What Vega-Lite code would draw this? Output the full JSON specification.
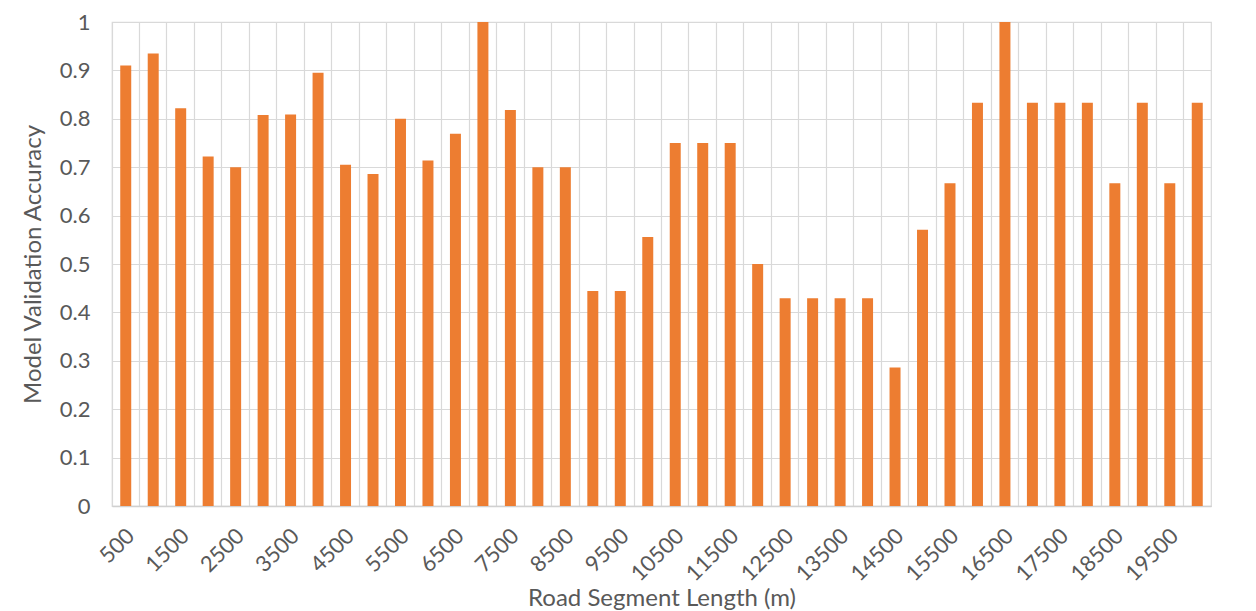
{
  "$schema": "https://vega.github.io/schema/vega-lite/v6.json",
  "width": 1099,
  "height": 484,
  "autosize": {"type": "none"},
  "padding": {"left": 112, "top": 22, "right": 45, "bottom": 105},
  "background": "white",
  "config": {
    "view": {"stroke": "#d9d9d9", "strokeWidth": 1.2},
    "font": "Lato"
  },
  "data": {
    "values": [
      {"length": 500, "accuracy": 0.91},
      {"length": 1000, "accuracy": 0.935},
      {"length": 1500, "accuracy": 0.822},
      {"length": 2000, "accuracy": 0.722},
      {"length": 2500, "accuracy": 0.7},
      {"length": 3000, "accuracy": 0.808},
      {"length": 3500, "accuracy": 0.809},
      {"length": 4000, "accuracy": 0.895},
      {"length": 4500, "accuracy": 0.705},
      {"length": 5000, "accuracy": 0.686},
      {"length": 5500, "accuracy": 0.8},
      {"length": 6000, "accuracy": 0.714},
      {"length": 6500, "accuracy": 0.769},
      {"length": 7000, "accuracy": 1.0},
      {"length": 7500, "accuracy": 0.818},
      {"length": 8000, "accuracy": 0.7},
      {"length": 8500, "accuracy": 0.7},
      {"length": 9000, "accuracy": 0.444},
      {"length": 9500, "accuracy": 0.444},
      {"length": 10000, "accuracy": 0.556},
      {"length": 10500, "accuracy": 0.75},
      {"length": 11000, "accuracy": 0.75},
      {"length": 11500, "accuracy": 0.75},
      {"length": 12000, "accuracy": 0.5},
      {"length": 12500, "accuracy": 0.429},
      {"length": 13000, "accuracy": 0.429},
      {"length": 13500, "accuracy": 0.429},
      {"length": 14000, "accuracy": 0.429},
      {"length": 14500, "accuracy": 0.286},
      {"length": 15000, "accuracy": 0.571},
      {"length": 15500, "accuracy": 0.667},
      {"length": 16000, "accuracy": 0.833},
      {"length": 16500, "accuracy": 1.0},
      {"length": 17000, "accuracy": 0.833},
      {"length": 17500, "accuracy": 0.833},
      {"length": 18000, "accuracy": 0.833},
      {"length": 18500, "accuracy": 0.667},
      {"length": 19000, "accuracy": 0.833},
      {"length": 19500, "accuracy": 0.667},
      {"length": 20000, "accuracy": 0.833}
    ]
  },
  "mark": {"type": "bar", "color": "#ED7D31", "width": {"band": 0.4}},
  "encoding": {
    "x": {
      "field": "length",
      "type": "ordinal",
      "sort": "ascending",
      "scale": {"paddingInner": 0, "paddingOuter": 0},
      "axis": {
        "title": "Road Segment Length (m)",
        "titleFont": "Lato",
        "titleFontSize": 24,
        "titleFontWeight": "normal",
        "titleColor": "#595959",
        "titlePadding": 2,
        "labelExpr": "datum.value % 1000 == 500 ? datum.label : ''",
        "bandPosition": 0,
        "labelOffset": 5,
        "labelAngle": -45,
        "labelAlign": "right",
        "labelBaseline": "middle",
        "labelFont": "Lato",
        "labelFontSize": 22,
        "labelColor": "#595959",
        "labelPadding": 26,
        "labelOverlap": false,
        "ticks": false,
        "domainColor": "#d0d0d0",
        "domainWidth": 1.5,
        "grid": true,
        "gridColor": "#d9d9d9",
        "gridWidth": 1.2
      }
    },
    "y": {
      "field": "accuracy",
      "type": "quantitative",
      "scale": {"domain": [0, 1], "nice": false},
      "axis": {
        "title": "Model Validation Accuracy",
        "titleFont": "Lato",
        "titleFontSize": 24,
        "titleFontWeight": "normal",
        "titleColor": "#595959",
        "titlePadding": 14,
        "values": [0, 0.1, 0.2, 0.3, 0.4, 0.5, 0.6, 0.7, 0.8, 0.9, 1],
        "format": ".1~f",
        "labelFont": "Lato",
        "labelFontSize": 22,
        "labelColor": "#595959",
        "labelPadding": 22,
        "ticks": false,
        "domain": false,
        "grid": true,
        "gridColor": "#d9d9d9",
        "gridWidth": 1.2
      }
    }
  }
}
